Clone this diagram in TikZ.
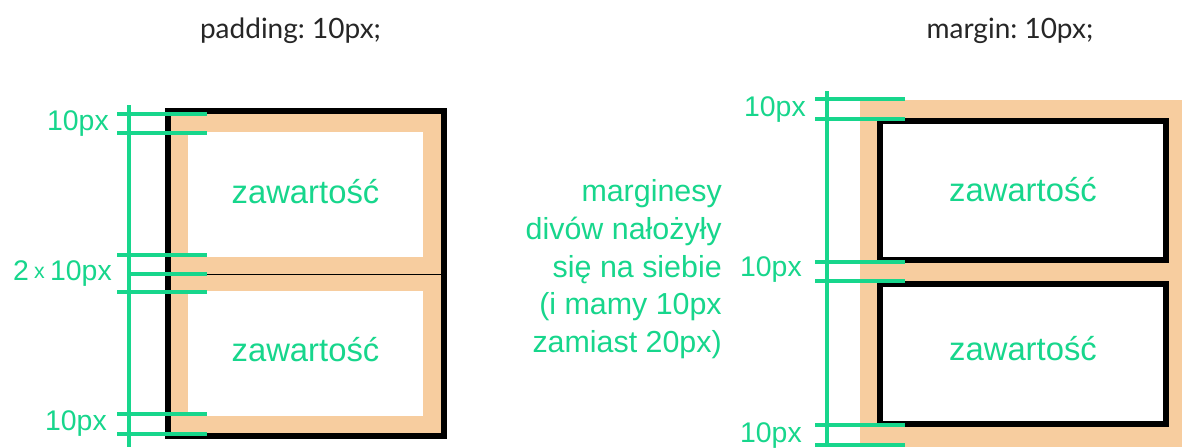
\documentclass[tikz,border=0pt]{standalone}
\usepackage{fontspec}
\frenchspacing
\newfontfamily\labfont{Liberation Sans}
\newfontfamily\titlefont{Lato}
\definecolor{grn}{HTML}{17D68C}
\definecolor{peach}{HTML}{F7CD9F}
\definecolor{ttl}{HTML}{262626}
\tikzset{
  gline/.style={draw=grn, line width=2.4pt},
  blk/.style={draw=black, line width=4.5pt},
  lbl/.style={text=grn, font=\labfont\fontsize{21.3}{24}\selectfont, inner sep=0pt, anchor=base east},
  cont/.style={text=grn, font=\labfont\fontsize{24.6}{28}\selectfont, inner sep=0pt, anchor=base},
  note/.style={text=grn, font=\labfont\fontsize{22.8}{28}\selectfont, inner sep=0pt, anchor=base east},
  ttlst/.style={text=ttl, font=\titlefont\fontsize{21}{24}\selectfont, inner sep=0pt, anchor=base}
}
\begin{document}
\begin{tikzpicture}[x=0.75pt,y=-0.75pt]
\useasboundingbox (0,0) rectangle (1182,447);
\fill[white] (0,0) rectangle (1182,447);

% titles
\node[ttlst] (t1) at (290.5,38.3) {padding: 10px;};
\node[ttlst] (t2) at (1010,38.3) {margin: 10px;};

% ---------- left: padding ----------
\fill[peach] (171,114) rectangle (441,433);
\fill[white] (188,132) rectangle (423,257);
\fill[white] (188,291) rectangle (423,416);
\draw[black, line width=0.75pt] (171,274) -- (441,274);
\draw[blk] (168,111) rectangle (444,436);

\draw[gline] (129,105) -- (129,447);
\foreach \yy in {114,133,255,292,414,434}
  \draw[gline] (117,\yy) -- (207,\yy);
\draw[gline] (129,274) -- (207,274);

\node[lbl] (l1) at (109,130) {10px};
\node[lbl] (l2) at (112,280.7) {2\hspace{4pt}\raisebox{2pt}{\fontsize{16}{16}\selectfont x}\hspace{4pt}10px};
\node[lbl] (l3) at (107,430.7) {10px};

\node[cont] (c1) at (305.5,203.3) {zawartość};
\node[cont] (c2) at (305.5,361.7) {zawartość};

% ---------- middle note ----------
\node[note] (m1) at (722,201.7) {marginesy};
\node[note] (m2) at (722,239.4) {divów nałożyły};
\node[note] (m3) at (722,277) {się na siebie};
\node[note] (m4) at (722,314.7) {(i mamy 10px};
\node[note] (m5) at (722,352.4) {zamiast 20px)};

% ---------- right: margin ----------
\fill[peach] (860,100) rectangle (1182,447);
\filldraw[blk, fill=white] (880.3,120.7) rectangle (1165.7,260.3);
\filldraw[blk, fill=white] (880.3,283.7) rectangle (1165.7,423.7);

\draw[gline] (827,91) -- (827,447);
\foreach \yy in {99,119,262,281,425,445}
  \draw[gline] (815,\yy) -- (905,\yy);

\node[lbl] (r1) at (806,116) {10px};
\node[lbl] (r2) at (802,276.7) {10px};
\node[lbl] (r3) at (802,442) {10px};

\node[cont] (c3) at (1023,201.7) {zawartość};
\node[cont] (c4) at (1023,360) {zawartość};
\end{tikzpicture}
\end{document}
